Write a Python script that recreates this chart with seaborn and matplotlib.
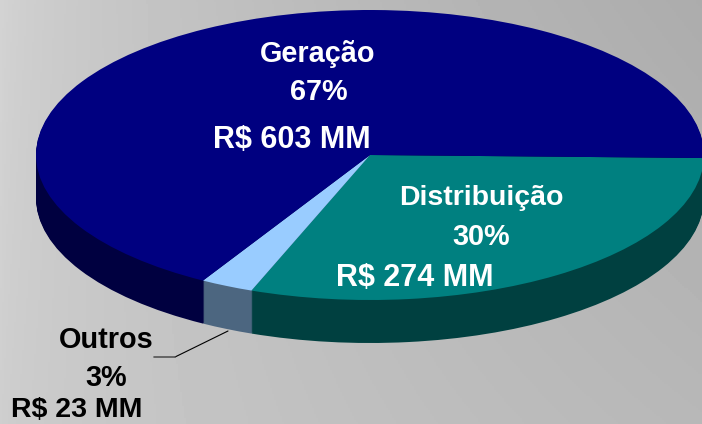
import numpy as np
import seaborn as sns
import matplotlib
matplotlib.use("Agg")
import matplotlib.pyplot as plt

# values in R$ MM, clockwise from 3 o'clock
names = ["Distribuição", "Outros", "Geração"]
valores = [274, 23, 603]
percents = ["30%", "3%", "67%"]
rotulos = ["R$ 274 MM", "R$ 23 MM", "R$ 603 MM"]

sns.set_theme(style="white")
plt.rcParams['font.family'] = ['Liberation Sans', 'DejaVu Sans']

top_colors = sns.color_palette(["#008080", "#99CCFF", "#000080"])
side_colors = sns.color_palette(["#004040", "#4C6680", "#000040"])

W, H = 702, 424
CX, CY, RX, RY, DEPTH = 370, 155, 334, 145, 43
START = -1.2

fig = plt.figure(figsize=(W/100, H/100), dpi=100)

# gradient background
bg = fig.add_axes([0, 0, 1, 1], zorder=0)
xx, yy = np.meshgrid(np.linspace(0, 1, 351), np.linspace(0, 1, 212))
left = 0.83 - 0.02*yy
right = 0.675 + 0.045*yy
grad = left + (right - left)*xx**0.6
bg.imshow(grad, cmap="gray", vmin=0, vmax=1, extent=(0, W, H, 0), aspect="auto")
bg.axis("off")

# pie, squashed through the axes limits; the rim is the same pie stacked downwards
ax = fig.add_axes([0, 0, 1, 1], zorder=1)
d = DEPTH/RY
for off in np.linspace(d, 0, 44)[:-1]:
    ax.pie(valores, colors=side_colors, startangle=START, counterclock=False,
           center=(0, -off), wedgeprops=dict(linewidth=0.6, edgecolor="none", antialiased=True))
ax.pie(valores, colors=top_colors, startangle=START, counterclock=False,
       wedgeprops=dict(linewidth=0))
ax.set_xlim(-CX/RX, (W-CX)/RX)
ax.set_ylim((CY-H)/RY, CY/RY)
ax.set_aspect("auto")
ax.patch.set_alpha(0)

# labels on top, in pixel coordinates
ov = fig.add_axes([0, 0, 1, 1], zorder=2)
ov.set_xlim(0, W)
ov.set_ylim(H, 0)
ov.axis("off")

def label(x, y, s, c, fs=20.8):
    ov.text(x, y, s, color=c, fontsize=fs, fontweight="bold", ha="center", va="center")

label(318, 54, names[2], "white")
label(319, 92, percents[2], "white")
label(292, 140, rotulos[2], "white", 22)

label(481, 198, names[0], "white", 20.5)
label(481, 237, percents[0], "white")
label(415, 278, rotulos[0], "white", 22)

label(106, 340, names[1], "black")
label(106, 378, percents[1], "black")
label(77, 410, rotulos[1], "black", 20.5)

ov.plot([228, 175], [331, 357], color="black", lw=0.8)
ov.plot([175, 154], [357, 357], color="#555555", lw=1.2)

fig.savefig("out.png", dpi=100)
